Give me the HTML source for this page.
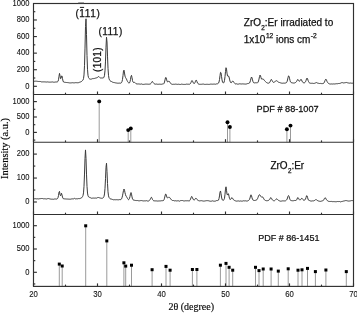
<!DOCTYPE html><html><head><meta charset="utf-8"><style>html,body{margin:0;padding:0;background:#fff;width:357px;height:313px;overflow:hidden}svg{display:block;will-change:transform}text{font-family:"Liberation Sans",sans-serif;fill:#111;stroke:#111;stroke-width:0.25px}.tk{stroke-width:0.1px}.sr{font-family:"Liberation Serif",serif;stroke:#111;stroke-width:0.15px;fill:#000}</style></head><body>
<svg width="357" height="313" viewBox="0 0 357 313">
<rect width="357" height="313" fill="#fff"/>
<line x1="99.2" y1="101.4" x2="99.2" y2="142.2" stroke="#9a9a9a" stroke-width="1"/>
<line x1="128.2" y1="130.1" x2="128.2" y2="142.2" stroke="#9a9a9a" stroke-width="1"/>
<line x1="130.8" y1="128.4" x2="130.8" y2="142.2" stroke="#9a9a9a" stroke-width="1"/>
<line x1="227.5" y1="122.2" x2="227.5" y2="142.2" stroke="#9a9a9a" stroke-width="1"/>
<line x1="229.9" y1="127.0" x2="229.9" y2="142.2" stroke="#9a9a9a" stroke-width="1"/>
<line x1="286.9" y1="129.2" x2="286.9" y2="142.2" stroke="#9a9a9a" stroke-width="1"/>
<line x1="290.5" y1="125.6" x2="290.5" y2="142.2" stroke="#9a9a9a" stroke-width="1"/>
<circle cx="99.2" cy="101.4" r="1.95" fill="#000"/>
<circle cx="128.2" cy="130.1" r="1.95" fill="#000"/>
<circle cx="130.8" cy="128.4" r="1.95" fill="#000"/>
<circle cx="227.5" cy="122.2" r="1.95" fill="#000"/>
<circle cx="229.9" cy="127.0" r="1.95" fill="#000"/>
<circle cx="286.9" cy="129.2" r="1.95" fill="#000"/>
<circle cx="290.5" cy="125.6" r="1.95" fill="#000"/>
<line x1="59.3" y1="264.1" x2="59.3" y2="286.4" stroke="#9a9a9a" stroke-width="1"/>
<line x1="62.2" y1="266.0" x2="62.2" y2="286.4" stroke="#9a9a9a" stroke-width="1"/>
<line x1="85.7" y1="225.8" x2="85.7" y2="286.4" stroke="#9a9a9a" stroke-width="1"/>
<line x1="106.8" y1="240.9" x2="106.8" y2="286.4" stroke="#9a9a9a" stroke-width="1"/>
<line x1="123.9" y1="262.8" x2="123.9" y2="286.4" stroke="#9a9a9a" stroke-width="1"/>
<line x1="125.7" y1="266.1" x2="125.7" y2="286.4" stroke="#9a9a9a" stroke-width="1"/>
<line x1="131.5" y1="265.2" x2="131.5" y2="286.4" stroke="#9a9a9a" stroke-width="1"/>
<line x1="152.1" y1="269.7" x2="152.1" y2="286.4" stroke="#9a9a9a" stroke-width="1"/>
<line x1="166.0" y1="266.4" x2="166.0" y2="286.4" stroke="#9a9a9a" stroke-width="1"/>
<line x1="170.1" y1="270.2" x2="170.1" y2="286.4" stroke="#9a9a9a" stroke-width="1"/>
<line x1="192.4" y1="269.5" x2="192.4" y2="286.4" stroke="#9a9a9a" stroke-width="1"/>
<line x1="196.9" y1="269.5" x2="196.9" y2="286.4" stroke="#9a9a9a" stroke-width="1"/>
<line x1="220.4" y1="265.2" x2="220.4" y2="286.4" stroke="#9a9a9a" stroke-width="1"/>
<line x1="226.0" y1="263.4" x2="226.0" y2="286.4" stroke="#9a9a9a" stroke-width="1"/>
<line x1="229.1" y1="267.3" x2="229.1" y2="286.4" stroke="#9a9a9a" stroke-width="1"/>
<line x1="232.7" y1="270.2" x2="232.7" y2="286.4" stroke="#9a9a9a" stroke-width="1"/>
<line x1="255.5" y1="267.3" x2="255.5" y2="286.4" stroke="#9a9a9a" stroke-width="1"/>
<line x1="259.0" y1="270.6" x2="259.0" y2="286.4" stroke="#9a9a9a" stroke-width="1"/>
<line x1="263.2" y1="269.0" x2="263.2" y2="286.4" stroke="#9a9a9a" stroke-width="1"/>
<line x1="271.1" y1="269.0" x2="271.1" y2="286.4" stroke="#9a9a9a" stroke-width="1"/>
<line x1="278.3" y1="271.1" x2="278.3" y2="286.4" stroke="#9a9a9a" stroke-width="1"/>
<line x1="288.2" y1="268.8" x2="288.2" y2="286.4" stroke="#9a9a9a" stroke-width="1"/>
<line x1="298.0" y1="270.2" x2="298.0" y2="286.4" stroke="#9a9a9a" stroke-width="1"/>
<line x1="302.0" y1="269.8" x2="302.0" y2="286.4" stroke="#9a9a9a" stroke-width="1"/>
<line x1="307.5" y1="268.4" x2="307.5" y2="286.4" stroke="#9a9a9a" stroke-width="1"/>
<line x1="315.4" y1="271.6" x2="315.4" y2="286.4" stroke="#9a9a9a" stroke-width="1"/>
<line x1="325.9" y1="270.0" x2="325.9" y2="286.4" stroke="#9a9a9a" stroke-width="1"/>
<line x1="346.3" y1="271.6" x2="346.3" y2="286.4" stroke="#9a9a9a" stroke-width="1"/>
<rect x="57.80" y="262.60" width="3" height="3" fill="#000"/>
<rect x="60.70" y="264.50" width="3" height="3" fill="#000"/>
<rect x="84.20" y="224.30" width="3" height="3" fill="#000"/>
<rect x="105.30" y="239.40" width="3" height="3" fill="#000"/>
<rect x="122.40" y="261.30" width="3" height="3" fill="#000"/>
<rect x="124.20" y="264.60" width="3" height="3" fill="#000"/>
<rect x="130.00" y="263.70" width="3" height="3" fill="#000"/>
<rect x="150.60" y="268.20" width="3" height="3" fill="#000"/>
<rect x="164.50" y="264.90" width="3" height="3" fill="#000"/>
<rect x="168.60" y="268.70" width="3" height="3" fill="#000"/>
<rect x="190.90" y="268.00" width="3" height="3" fill="#000"/>
<rect x="195.40" y="268.00" width="3" height="3" fill="#000"/>
<rect x="218.90" y="263.70" width="3" height="3" fill="#000"/>
<rect x="224.50" y="261.90" width="3" height="3" fill="#000"/>
<rect x="227.60" y="265.80" width="3" height="3" fill="#000"/>
<rect x="231.20" y="268.70" width="3" height="3" fill="#000"/>
<rect x="254.00" y="265.80" width="3" height="3" fill="#000"/>
<rect x="257.50" y="269.10" width="3" height="3" fill="#000"/>
<rect x="261.70" y="267.50" width="3" height="3" fill="#000"/>
<rect x="269.60" y="267.50" width="3" height="3" fill="#000"/>
<rect x="276.80" y="269.60" width="3" height="3" fill="#000"/>
<rect x="286.70" y="267.30" width="3" height="3" fill="#000"/>
<rect x="296.50" y="268.70" width="3" height="3" fill="#000"/>
<rect x="300.50" y="268.30" width="3" height="3" fill="#000"/>
<rect x="306.00" y="266.90" width="3" height="3" fill="#000"/>
<rect x="313.90" y="270.10" width="3" height="3" fill="#000"/>
<rect x="324.40" y="268.50" width="3" height="3" fill="#000"/>
<rect x="344.80" y="270.10" width="3" height="3" fill="#000"/>
<path d="M33.50 81.46 L34.00 81.40 L34.50 81.29 L35.00 81.15 L35.50 81.18 L36.00 81.19 L36.50 81.20 L37.00 81.24 L37.50 81.35 L38.00 81.51 L38.50 81.47 L39.00 81.49 L39.50 81.48 L40.00 81.47 L40.50 81.53 L41.00 81.59 L41.50 81.88 L42.00 81.88 L42.50 81.88 L43.00 81.84 L43.50 81.86 L44.00 81.96 L44.50 81.89 L45.00 81.92 L45.50 81.94 L46.00 82.03 L46.50 82.04 L47.00 81.91 L47.50 81.91 L48.00 81.92 L48.50 82.05 L49.00 82.05 L49.50 82.14 L50.00 82.10 L50.50 82.11 L51.00 82.09 L51.50 82.04 L52.00 82.01 L52.50 81.94 L53.00 82.16 L53.50 82.18 L54.00 82.27 L54.50 82.18 L55.00 82.16 L55.50 82.01 L56.00 82.01 L56.50 81.97 L57.00 82.07 L57.50 81.78 L58.00 81.35 L58.50 79.76 L59.00 76.26 L59.50 73.40 L60.00 75.78 L60.50 78.65 L61.00 78.45 L61.50 76.12 L62.00 75.88 L62.50 78.60 L63.00 80.96 L63.50 81.97 L64.00 82.30 L64.50 82.29 L65.00 82.25 L65.50 82.39 L66.00 82.42 L66.50 82.51 L67.00 82.43 L67.50 82.57 L68.00 82.59 L68.50 82.69 L69.00 82.82 L69.50 82.89 L70.00 83.00 L70.50 82.91 L71.00 82.88 L71.50 82.83 L72.00 82.67 L72.50 82.71 L73.00 82.71 L73.50 82.83 L74.00 82.87 L74.50 82.83 L75.00 82.75 L75.50 82.67 L76.00 82.61 L76.50 82.70 L77.00 82.66 L77.50 82.76 L78.00 82.73 L78.50 82.66 L79.00 82.51 L79.50 82.27 L80.00 82.22 L80.50 81.95 L81.00 81.89 L81.50 81.46 L82.00 81.10 L82.50 80.55 L83.00 79.99 L83.50 78.63 L84.00 74.95 L84.50 65.70 L85.00 48.10 L85.50 26.61 L86.00 18.80 L86.50 34.62 L87.00 55.49 L87.50 69.26 L88.00 75.31 L88.50 77.57 L89.00 78.44 L89.50 78.86 L90.00 79.11 L90.50 79.20 L91.00 79.25 L91.50 79.06 L92.00 78.93 L92.50 78.63 L93.00 78.60 L93.50 78.58 L94.00 78.56 L94.50 78.43 L95.00 78.20 L95.50 78.11 L96.00 78.03 L96.50 77.84 L97.00 77.70 L97.50 77.40 L98.00 76.97 L98.50 76.59 L99.00 76.74 L99.50 77.29 L100.00 77.72 L100.50 77.97 L101.00 78.02 L101.50 77.98 L102.00 77.92 L102.50 77.99 L103.00 78.03 L103.50 77.84 L104.00 77.11 L104.50 75.29 L105.00 70.69 L105.50 61.11 L106.00 47.18 L106.50 37.18 L107.00 42.01 L107.50 56.13 L108.00 68.33 L108.50 75.33 L109.00 78.52 L109.50 79.90 L110.00 80.65 L110.50 81.14 L111.00 81.38 L111.50 81.53 L112.00 81.71 L112.50 82.14 L113.00 82.42 L113.50 82.46 L114.00 82.43 L114.50 82.62 L115.00 82.73 L115.50 82.86 L116.00 82.80 L116.50 83.02 L117.00 83.07 L117.50 83.18 L118.00 83.26 L118.50 83.20 L119.00 83.14 L119.50 83.12 L120.00 83.06 L120.50 83.19 L121.00 82.95 L121.50 82.63 L122.00 81.59 L122.50 79.39 L123.00 75.46 L123.50 71.06 L124.00 70.17 L124.50 73.04 L125.00 76.12 L125.50 77.45 L126.00 78.29 L126.50 79.11 L127.00 80.40 L127.50 81.39 L128.00 82.30 L128.50 82.79 L129.00 83.01 L129.50 82.89 L130.00 81.77 L130.50 79.44 L131.00 76.37 L131.50 75.35 L132.00 77.60 L132.50 80.49 L133.00 81.98 L133.50 82.53 L134.00 82.37 L134.50 82.38 L135.00 82.54 L135.50 83.03 L136.00 83.57 L136.50 83.85 L137.00 83.95 L137.50 83.98 L138.00 83.99 L138.50 83.94 L139.00 84.00 L139.50 84.06 L140.00 84.28 L140.50 84.16 L141.00 84.00 L141.50 83.95 L142.00 84.04 L142.50 84.34 L143.00 84.36 L143.50 84.38 L144.00 84.31 L144.50 84.25 L145.00 84.24 L145.50 84.11 L146.00 84.17 L146.50 84.11 L147.00 84.16 L147.50 84.17 L148.00 84.28 L148.50 84.23 L149.00 84.29 L149.50 84.16 L150.00 84.19 L150.50 83.88 L151.00 83.40 L151.50 82.46 L152.00 81.61 L152.50 81.55 L153.00 82.38 L153.50 83.08 L154.00 83.59 L154.50 83.92 L155.00 84.16 L155.50 84.19 L156.00 84.09 L156.50 84.07 L157.00 84.19 L157.50 84.26 L158.00 84.35 L158.50 84.25 L159.00 84.29 L159.50 84.18 L160.00 84.20 L160.50 84.24 L161.00 84.26 L161.50 84.25 L162.00 84.08 L162.50 84.00 L163.00 84.02 L163.50 83.91 L164.00 83.42 L164.50 82.06 L165.00 79.92 L165.50 77.73 L166.00 77.42 L166.50 79.12 L167.00 81.00 L167.50 81.92 L168.00 81.84 L168.50 81.37 L169.00 80.99 L169.50 81.58 L170.00 82.45 L170.50 83.34 L171.00 83.72 L171.50 84.01 L172.00 84.24 L172.50 84.36 L173.00 84.33 L173.50 84.28 L174.00 84.29 L174.50 84.29 L175.00 84.24 L175.50 84.15 L176.00 84.16 L176.50 84.24 L177.00 84.44 L177.50 84.36 L178.00 84.38 L178.50 84.22 L179.00 84.34 L179.50 84.40 L180.00 84.49 L180.50 84.46 L181.00 84.33 L181.50 84.16 L182.00 84.17 L182.50 84.29 L183.00 84.36 L183.50 84.41 L184.00 84.37 L184.50 84.42 L185.00 84.44 L185.50 84.38 L186.00 84.29 L186.50 84.14 L187.00 84.20 L187.50 84.21 L188.00 84.26 L188.50 84.23 L189.00 84.16 L189.50 84.22 L190.00 84.00 L190.50 83.52 L191.00 82.41 L191.50 81.21 L192.00 80.51 L192.50 81.13 L193.00 82.24 L193.50 83.21 L194.00 83.60 L194.50 83.41 L195.00 82.57 L195.50 81.24 L196.00 80.16 L196.50 80.40 L197.00 81.68 L197.50 83.01 L198.00 83.61 L198.50 83.99 L199.00 84.06 L199.50 84.31 L200.00 84.35 L200.50 84.30 L201.00 84.29 L201.50 84.28 L202.00 84.35 L202.50 84.13 L203.00 84.17 L203.50 84.09 L204.00 84.35 L204.50 84.37 L205.00 84.48 L205.50 84.39 L206.00 84.37 L206.50 84.30 L207.00 84.34 L207.50 84.30 L208.00 84.26 L208.50 84.38 L209.00 84.43 L209.50 84.35 L210.00 84.28 L210.50 84.13 L211.00 84.24 L211.50 84.13 L212.00 84.17 L212.50 84.19 L213.00 84.19 L213.50 84.12 L214.00 84.08 L214.50 84.10 L215.00 84.29 L215.50 84.23 L216.00 84.08 L216.50 83.88 L217.00 83.88 L217.50 83.79 L218.00 83.58 L218.50 83.12 L219.00 82.01 L219.50 79.59 L220.00 75.70 L220.50 72.36 L221.00 72.72 L221.50 76.31 L222.00 79.86 L222.50 81.96 L223.00 82.80 L223.50 82.92 L224.00 82.34 L224.50 80.48 L225.00 76.67 L225.50 71.46 L226.00 67.71 L226.50 69.12 L227.00 73.17 L227.50 75.95 L228.00 76.31 L228.50 76.00 L229.00 77.00 L229.50 79.08 L230.00 81.12 L230.50 82.42 L231.00 82.87 L231.50 82.63 L232.00 81.79 L232.50 81.11 L233.00 81.01 L233.50 81.62 L234.00 82.49 L234.50 83.19 L235.00 83.72 L235.50 83.94 L236.00 83.79 L236.50 83.80 L237.00 83.88 L237.50 84.13 L238.00 84.19 L238.50 84.10 L239.00 83.97 L239.50 83.81 L240.00 83.78 L240.50 83.90 L241.00 84.01 L241.50 83.99 L242.00 84.00 L242.50 83.89 L243.00 84.06 L243.50 83.94 L244.00 84.07 L244.50 84.02 L245.00 84.05 L245.50 84.09 L246.00 84.03 L246.50 83.94 L247.00 83.75 L247.50 83.59 L248.00 83.48 L248.50 83.46 L249.00 83.38 L249.50 83.01 L250.00 82.06 L250.50 80.32 L251.00 78.28 L251.50 77.00 L252.00 77.86 L252.50 79.88 L253.00 81.65 L253.50 82.62 L254.00 82.92 L254.50 82.90 L255.00 82.88 L255.50 82.75 L256.00 82.69 L256.50 82.77 L257.00 82.85 L257.50 82.79 L258.00 82.27 L258.50 81.02 L259.00 79.08 L259.50 76.59 L260.00 75.06 L260.50 75.69 L261.00 77.62 L261.50 79.06 L262.00 79.37 L262.50 79.00 L263.00 78.79 L263.50 79.22 L264.00 79.95 L264.50 80.64 L265.00 81.11 L265.50 81.60 L266.00 82.04 L266.50 82.53 L267.00 82.85 L267.50 83.04 L268.00 83.17 L268.50 83.18 L269.00 83.07 L269.50 82.71 L270.00 81.91 L270.50 80.81 L271.00 79.59 L271.50 79.54 L272.00 80.40 L272.50 81.43 L273.00 82.17 L273.50 82.39 L274.00 82.29 L274.50 81.93 L275.00 81.56 L275.50 81.21 L276.00 80.83 L276.50 80.69 L277.00 80.95 L277.50 81.34 L278.00 81.78 L278.50 82.18 L279.00 82.33 L279.50 82.51 L280.00 82.69 L280.50 82.83 L281.00 83.03 L281.50 83.14 L282.00 83.29 L282.50 83.23 L283.00 83.10 L283.50 83.14 L284.00 83.14 L284.50 83.17 L285.00 83.06 L285.50 83.01 L286.00 82.83 L286.50 82.58 L287.00 81.71 L287.50 80.02 L288.00 77.67 L288.50 75.91 L289.00 76.20 L289.50 78.27 L290.00 80.43 L290.50 81.90 L291.00 82.49 L291.50 82.66 L292.00 82.81 L292.50 82.90 L293.00 83.08 L293.50 83.04 L294.00 83.13 L294.50 82.97 L295.00 82.91 L295.50 82.53 L296.00 82.22 L296.50 81.56 L297.00 80.66 L297.50 79.66 L298.00 79.46 L298.50 80.27 L299.00 81.07 L299.50 81.32 L300.00 80.66 L300.50 79.85 L301.00 79.23 L301.50 79.88 L302.00 81.04 L302.50 82.05 L303.00 82.57 L303.50 82.75 L304.00 82.82 L304.50 82.79 L305.00 82.45 L305.50 81.76 L306.00 80.51 L306.50 78.90 L307.00 78.03 L307.50 78.55 L308.00 80.24 L308.50 81.52 L309.00 82.56 L309.50 82.89 L310.00 83.15 L310.50 83.25 L311.00 83.35 L311.50 83.29 L312.00 83.24 L312.50 83.28 L313.00 83.46 L313.50 83.44 L314.00 83.42 L314.50 83.33 L315.00 83.14 L315.50 82.91 L316.00 82.57 L316.50 82.57 L317.00 82.72 L317.50 83.07 L318.00 83.14 L318.50 83.31 L319.00 83.37 L319.50 83.50 L320.00 83.49 L320.50 83.43 L321.00 83.51 L321.50 83.58 L322.00 83.69 L322.50 83.60 L323.00 83.58 L323.50 83.39 L324.00 82.90 L324.50 81.92 L325.00 80.56 L325.50 79.46 L326.00 79.17 L326.50 80.15 L327.00 81.39 L327.50 82.33 L328.00 82.94 L328.50 83.42 L329.00 83.72 L329.50 83.90 L330.00 83.91 L330.50 84.04 L331.00 84.02 L331.50 83.94 L332.00 83.89 L332.50 84.04 L333.00 84.06 L333.50 83.92 L334.00 83.91 L334.50 83.98 L335.00 84.07 L335.50 83.85 L336.00 83.67 L336.50 83.71 L337.00 83.72 L337.50 83.73 L338.00 83.60 L338.50 83.51 L339.00 83.55 L339.50 83.47 L340.00 83.47 L340.50 83.19 L341.00 82.98 L341.50 82.69 L342.00 82.61 L342.50 82.63 L343.00 82.78 L343.50 82.94 L344.00 82.86 L344.50 82.80 L345.00 82.60 L345.50 82.64 L346.00 82.46 L346.50 82.48 L347.00 82.58 L347.50 82.79 L348.00 82.96 L348.50 83.01 L349.00 83.05 L349.50 83.16 L350.00 83.08 L350.50 83.03 L351.00 83.04 L351.50 83.20 L352.00 83.28 L352.50 83.19 L353.00 83.29 L353.50 83.34" fill="none" stroke="#3a3a3a" stroke-width="1.0" stroke-linejoin="round"/>
<path d="M33.50 198.79 L34.00 198.64 L34.50 198.75 L35.00 198.61 L35.50 198.69 L36.00 198.80 L36.50 198.86 L37.00 198.89 L37.50 198.79 L38.00 198.90 L38.50 198.92 L39.00 198.92 L39.50 198.72 L40.00 198.71 L40.50 198.62 L41.00 198.60 L41.50 198.50 L42.00 198.39 L42.50 198.52 L43.00 198.67 L43.50 198.81 L44.00 198.86 L44.50 198.76 L45.00 198.79 L45.50 198.83 L46.00 199.05 L46.50 198.99 L47.00 198.94 L47.50 198.67 L48.00 198.72 L48.50 198.56 L49.00 198.63 L49.50 198.80 L50.00 198.81 L50.50 199.05 L51.00 198.98 L51.50 199.18 L52.00 199.16 L52.50 199.19 L53.00 199.33 L53.50 199.27 L54.00 199.17 L54.50 199.00 L55.00 198.92 L55.50 198.97 L56.00 198.93 L56.50 199.08 L57.00 198.81 L57.50 198.58 L58.00 197.69 L58.50 195.47 L59.00 192.18 L59.50 191.38 L60.00 194.62 L60.50 195.77 L61.00 194.78 L61.50 193.26 L62.00 195.06 L62.50 197.13 L63.00 198.48 L63.50 198.67 L64.00 198.92 L64.50 198.87 L65.00 198.96 L65.50 198.95 L66.00 199.26 L66.50 199.03 L67.00 199.15 L67.50 199.06 L68.00 199.25 L68.50 199.12 L69.00 198.98 L69.50 199.18 L70.00 199.17 L70.50 199.18 L71.00 198.99 L71.50 198.94 L72.00 198.93 L72.50 198.85 L73.00 199.06 L73.50 198.87 L74.00 198.58 L74.50 198.35 L75.00 198.50 L75.50 198.87 L76.00 198.82 L76.50 198.78 L77.00 198.73 L77.50 198.80 L78.00 198.71 L78.50 198.57 L79.00 198.59 L79.50 198.60 L80.00 198.42 L80.50 198.32 L81.00 198.16 L81.50 197.95 L82.00 197.25 L82.50 196.65 L83.00 195.54 L83.50 192.88 L84.00 186.28 L84.50 174.05 L85.00 158.41 L85.50 149.92 L86.00 158.37 L86.50 174.14 L87.00 186.41 L87.50 193.05 L88.00 195.74 L88.50 196.77 L89.00 197.18 L89.50 197.36 L90.00 197.48 L90.50 197.73 L91.00 198.00 L91.50 198.24 L92.00 198.23 L92.50 198.13 L93.00 198.08 L93.50 198.07 L94.00 198.09 L94.50 198.11 L95.00 198.16 L95.50 198.05 L96.00 198.15 L96.50 198.14 L97.00 198.07 L97.50 197.62 L98.00 197.40 L98.50 197.49 L99.00 197.69 L99.50 197.81 L100.00 197.82 L100.50 198.10 L101.00 198.13 L101.50 198.28 L102.00 198.12 L102.50 198.18 L103.00 197.87 L103.50 197.48 L104.00 196.35 L104.50 193.94 L105.00 188.40 L105.50 178.69 L106.00 167.24 L106.50 163.23 L107.00 171.64 L107.50 183.45 L108.00 191.79 L108.50 195.83 L109.00 197.38 L109.50 198.20 L110.00 198.69 L110.50 198.91 L111.00 199.07 L111.50 199.13 L112.00 199.28 L112.50 199.48 L113.00 199.71 L113.50 199.77 L114.00 199.69 L114.50 199.70 L115.00 199.74 L115.50 199.75 L116.00 199.78 L116.50 199.69 L117.00 199.74 L117.50 199.76 L118.00 199.99 L118.50 199.81 L119.00 199.75 L119.50 199.58 L120.00 199.72 L120.50 199.64 L121.00 199.53 L121.50 198.89 L122.00 197.70 L122.50 195.85 L123.00 193.11 L123.50 190.42 L124.00 189.04 L124.50 190.20 L125.00 192.73 L125.50 194.66 L126.00 196.07 L126.50 196.61 L127.00 197.56 L127.50 198.44 L128.00 199.29 L128.50 199.68 L129.00 199.39 L129.50 198.31 L130.00 196.43 L130.50 193.77 L131.00 192.54 L131.50 194.17 L132.00 196.92 L132.50 198.92 L133.00 199.71 L133.50 200.03 L134.00 200.16 L134.50 200.29 L135.00 200.52 L135.50 200.47 L136.00 200.73 L136.50 200.54 L137.00 200.76 L137.50 200.52 L138.00 200.81 L138.50 200.74 L139.00 200.88 L139.50 200.81 L140.00 200.75 L140.50 200.62 L141.00 200.36 L141.50 200.56 L142.00 200.60 L142.50 200.76 L143.00 200.64 L143.50 200.92 L144.00 200.82 L144.50 200.85 L145.00 200.62 L145.50 200.86 L146.00 200.66 L146.50 200.66 L147.00 200.69 L147.50 201.02 L148.00 201.20 L148.50 201.01 L149.00 200.78 L149.50 200.38 L150.00 199.78 L150.50 198.62 L151.00 197.56 L151.50 197.32 L152.00 198.27 L152.50 199.48 L153.00 200.19 L153.50 200.66 L154.00 200.69 L154.50 200.85 L155.00 200.87 L155.50 200.90 L156.00 200.94 L156.50 200.92 L157.00 201.10 L157.50 201.04 L158.00 201.11 L158.50 200.97 L159.00 200.96 L159.50 200.93 L160.00 200.77 L160.50 200.90 L161.00 200.72 L161.50 200.72 L162.00 200.60 L162.50 200.70 L163.00 200.73 L163.50 200.53 L164.00 199.77 L164.50 198.19 L165.00 196.02 L165.50 194.16 L166.00 194.20 L166.50 195.91 L167.00 197.39 L167.50 197.97 L168.00 197.77 L168.50 197.26 L169.00 197.13 L169.50 197.39 L170.00 197.95 L170.50 198.73 L171.00 199.18 L171.50 199.90 L172.00 200.15 L172.50 200.51 L173.00 200.41 L173.50 200.51 L174.00 200.63 L174.50 200.85 L175.00 200.72 L175.50 200.73 L176.00 200.78 L176.50 200.93 L177.00 200.99 L177.50 200.80 L178.00 200.83 L178.50 200.80 L179.00 201.04 L179.50 201.18 L180.00 200.96 L180.50 200.65 L181.00 200.56 L181.50 200.53 L182.00 200.69 L182.50 200.52 L183.00 200.77 L183.50 200.86 L184.00 201.04 L184.50 200.93 L185.00 200.85 L185.50 200.75 L186.00 200.78 L186.50 200.79 L187.00 200.85 L187.50 200.76 L188.00 200.90 L188.50 200.84 L189.00 200.97 L189.50 200.77 L190.00 200.31 L190.50 199.20 L191.00 197.87 L191.50 196.58 L192.00 196.59 L192.50 197.61 L193.00 199.02 L193.50 199.75 L194.00 200.05 L194.50 199.83 L195.00 199.39 L195.50 198.42 L196.00 198.15 L196.50 198.62 L197.00 199.47 L197.50 199.94 L198.00 200.23 L198.50 200.60 L199.00 200.72 L199.50 200.88 L200.00 200.84 L200.50 200.76 L201.00 200.58 L201.50 200.68 L202.00 200.73 L202.50 200.90 L203.00 200.95 L203.50 201.09 L204.00 201.12 L204.50 201.02 L205.00 200.97 L205.50 200.83 L206.00 200.80 L206.50 200.66 L207.00 200.68 L207.50 200.65 L208.00 200.67 L208.50 200.76 L209.00 200.92 L209.50 201.04 L210.00 201.18 L210.50 201.22 L211.00 201.35 L211.50 201.15 L212.00 200.90 L212.50 200.84 L213.00 200.92 L213.50 201.13 L214.00 201.11 L214.50 201.19 L215.00 201.06 L215.50 201.06 L216.00 200.82 L216.50 200.57 L217.00 200.40 L217.50 200.55 L218.00 200.43 L218.50 200.11 L219.00 198.58 L219.50 195.93 L220.00 192.22 L220.50 190.97 L221.00 193.58 L221.50 197.03 L222.00 199.14 L222.50 200.12 L223.00 200.20 L223.50 200.19 L224.00 199.72 L224.50 198.28 L225.00 194.23 L225.50 189.13 L226.00 186.80 L226.50 190.28 L227.00 194.05 L227.50 195.06 L228.00 193.80 L228.50 193.86 L229.00 196.23 L229.50 198.50 L230.00 199.57 L230.50 199.40 L231.00 198.86 L231.50 197.95 L232.00 197.55 L232.50 198.17 L233.00 199.09 L233.50 199.77 L234.00 200.17 L234.50 200.45 L235.00 200.79 L235.50 200.86 L236.00 201.01 L236.50 201.14 L237.00 201.22 L237.50 201.00 L238.00 200.86 L238.50 200.93 L239.00 201.06 L239.50 201.17 L240.00 200.96 L240.50 200.96 L241.00 201.02 L241.50 201.13 L242.00 201.15 L242.50 201.08 L243.00 200.84 L243.50 200.78 L244.00 200.78 L244.50 200.90 L245.00 200.86 L245.50 200.80 L246.00 200.81 L246.50 201.03 L247.00 201.05 L247.50 200.95 L248.00 200.70 L248.50 200.46 L249.00 200.12 L249.50 199.45 L250.00 197.98 L250.50 196.04 L251.00 194.81 L251.50 195.73 L252.00 197.76 L252.50 199.31 L253.00 200.19 L253.50 200.26 L254.00 200.35 L254.50 200.49 L255.00 200.52 L255.50 200.33 L256.00 199.98 L256.50 199.91 L257.00 199.63 L257.50 198.77 L258.00 197.47 L258.50 196.14 L259.00 195.09 L259.50 194.71 L260.00 195.03 L260.50 195.81 L261.00 196.61 L261.50 197.13 L262.00 197.25 L262.50 197.01 L263.00 197.24 L263.50 198.22 L264.00 199.24 L264.50 199.88 L265.00 200.23 L265.50 200.49 L266.00 200.57 L266.50 200.71 L267.00 200.66 L267.50 200.67 L268.00 200.44 L268.50 200.37 L269.00 200.15 L269.50 199.64 L270.00 198.80 L270.50 197.81 L271.00 197.63 L271.50 198.34 L272.00 199.40 L272.50 200.04 L273.00 200.49 L273.50 200.70 L274.00 200.82 L274.50 200.71 L275.00 200.29 L275.50 199.84 L276.00 199.34 L276.50 198.92 L277.00 198.94 L277.50 199.48 L278.00 199.96 L278.50 200.38 L279.00 200.41 L279.50 200.85 L280.00 201.01 L280.50 201.20 L281.00 201.10 L281.50 201.08 L282.00 201.06 L282.50 200.86 L283.00 200.86 L283.50 200.88 L284.00 200.87 L284.50 200.91 L285.00 200.88 L285.50 200.80 L286.00 200.51 L286.50 200.02 L287.00 199.29 L287.50 197.99 L288.00 196.30 L288.50 195.54 L289.00 196.31 L289.50 198.10 L290.00 199.51 L290.50 200.30 L291.00 200.68 L291.50 200.63 L292.00 200.82 L292.50 200.75 L293.00 200.84 L293.50 200.71 L294.00 200.56 L294.50 200.47 L295.00 200.45 L295.50 200.49 L296.00 200.58 L296.50 200.07 L297.00 199.14 L297.50 197.86 L298.00 197.51 L298.50 198.22 L299.00 199.33 L299.50 199.85 L300.00 199.99 L300.50 199.74 L301.00 199.11 L301.50 198.40 L302.00 198.22 L302.50 198.88 L303.00 199.66 L303.50 200.12 L304.00 200.14 L304.50 200.08 L305.00 199.84 L305.50 199.09 L306.00 197.63 L306.50 195.84 L307.00 195.78 L307.50 197.24 L308.00 199.08 L308.50 200.15 L309.00 200.41 L309.50 200.55 L310.00 200.50 L310.50 200.94 L311.00 201.01 L311.50 201.06 L312.00 200.97 L312.50 200.89 L313.00 201.07 L313.50 200.89 L314.00 200.91 L314.50 200.48 L315.00 200.29 L315.50 199.68 L316.00 199.65 L316.50 199.71 L317.00 200.36 L317.50 200.55 L318.00 200.88 L318.50 201.01 L319.00 201.23 L319.50 201.26 L320.00 201.32 L320.50 201.37 L321.00 201.29 L321.50 201.10 L322.00 200.82 L322.50 200.79 L323.00 200.58 L323.50 200.27 L324.00 199.38 L324.50 198.37 L325.00 197.69 L325.50 197.98 L326.00 198.86 L326.50 199.66 L327.00 200.18 L327.50 200.81 L328.00 201.13 L328.50 201.32 L329.00 201.38 L329.50 201.48 L330.00 201.57 L330.50 201.47 L331.00 201.41 L331.50 201.43 L332.00 201.51 L332.50 201.63 L333.00 201.57 L333.50 201.60 L334.00 201.59 L334.50 201.65 L335.00 201.67 L335.50 201.73 L336.00 201.74 L336.50 201.70 L337.00 201.50 L337.50 201.51 L338.00 201.50 L338.50 201.56 L339.00 201.45 L339.50 201.51 L340.00 201.80 L340.50 201.89 L341.00 201.81 L341.50 201.56 L342.00 201.42 L342.50 201.36 L343.00 201.18 L343.50 201.07 L344.00 200.94 L344.50 200.87 L345.00 200.78 L345.50 200.59 L346.00 200.62 L346.50 200.61 L347.00 200.87 L347.50 200.89 L348.00 201.05 L348.50 201.06 L349.00 201.15 L349.50 201.00 L350.00 200.88 L350.50 200.83 L351.00 200.83 L351.50 200.58 L352.00 200.51 L352.50 200.59 L353.00 200.84 L353.50 200.84" fill="none" stroke="#3a3a3a" stroke-width="1.0" stroke-linejoin="round"/>
<g stroke="#303030" stroke-width="1.15" fill="none">
<rect x="33.50" y="3.50" width="320.00" height="282.90"/>
<line x1="33.50" y1="94.50" x2="353.50" y2="94.50"/>
<line x1="33.50" y1="142.20" x2="353.50" y2="142.20"/>
<line x1="33.50" y1="214.50" x2="353.50" y2="214.50"/>
<line x1="33.50" y1="94.50" x2="33.50" y2="91.50"/>
<line x1="65.50" y1="94.50" x2="65.50" y2="92.70"/>
<line x1="97.50" y1="94.50" x2="97.50" y2="91.50"/>
<line x1="129.50" y1="94.50" x2="129.50" y2="92.70"/>
<line x1="161.50" y1="94.50" x2="161.50" y2="91.50"/>
<line x1="193.50" y1="94.50" x2="193.50" y2="92.70"/>
<line x1="225.50" y1="94.50" x2="225.50" y2="91.50"/>
<line x1="257.50" y1="94.50" x2="257.50" y2="92.70"/>
<line x1="289.50" y1="94.50" x2="289.50" y2="91.50"/>
<line x1="321.50" y1="94.50" x2="321.50" y2="92.70"/>
<line x1="353.50" y1="94.50" x2="353.50" y2="91.50"/>
<line x1="33.50" y1="142.20" x2="33.50" y2="139.20"/>
<line x1="65.50" y1="142.20" x2="65.50" y2="140.40"/>
<line x1="97.50" y1="142.20" x2="97.50" y2="139.20"/>
<line x1="129.50" y1="142.20" x2="129.50" y2="140.40"/>
<line x1="161.50" y1="142.20" x2="161.50" y2="139.20"/>
<line x1="193.50" y1="142.20" x2="193.50" y2="140.40"/>
<line x1="225.50" y1="142.20" x2="225.50" y2="139.20"/>
<line x1="257.50" y1="142.20" x2="257.50" y2="140.40"/>
<line x1="289.50" y1="142.20" x2="289.50" y2="139.20"/>
<line x1="321.50" y1="142.20" x2="321.50" y2="140.40"/>
<line x1="353.50" y1="142.20" x2="353.50" y2="139.20"/>
<line x1="33.50" y1="214.50" x2="33.50" y2="211.50"/>
<line x1="65.50" y1="214.50" x2="65.50" y2="212.70"/>
<line x1="97.50" y1="214.50" x2="97.50" y2="211.50"/>
<line x1="129.50" y1="214.50" x2="129.50" y2="212.70"/>
<line x1="161.50" y1="214.50" x2="161.50" y2="211.50"/>
<line x1="193.50" y1="214.50" x2="193.50" y2="212.70"/>
<line x1="225.50" y1="214.50" x2="225.50" y2="211.50"/>
<line x1="257.50" y1="214.50" x2="257.50" y2="212.70"/>
<line x1="289.50" y1="214.50" x2="289.50" y2="211.50"/>
<line x1="321.50" y1="214.50" x2="321.50" y2="212.70"/>
<line x1="353.50" y1="214.50" x2="353.50" y2="211.50"/>
<line x1="33.50" y1="286.40" x2="33.50" y2="283.40"/>
<line x1="65.50" y1="286.40" x2="65.50" y2="284.60"/>
<line x1="97.50" y1="286.40" x2="97.50" y2="283.40"/>
<line x1="129.50" y1="286.40" x2="129.50" y2="284.60"/>
<line x1="161.50" y1="286.40" x2="161.50" y2="283.40"/>
<line x1="193.50" y1="286.40" x2="193.50" y2="284.60"/>
<line x1="225.50" y1="286.40" x2="225.50" y2="283.40"/>
<line x1="257.50" y1="286.40" x2="257.50" y2="284.60"/>
<line x1="289.50" y1="286.40" x2="289.50" y2="283.40"/>
<line x1="321.50" y1="286.40" x2="321.50" y2="284.60"/>
<line x1="353.50" y1="286.40" x2="353.50" y2="283.40"/>
<line x1="33.50" y1="11.69" x2="35.30" y2="11.69"/>
<line x1="33.50" y1="19.98" x2="36.90" y2="19.98"/>
<line x1="33.50" y1="28.27" x2="35.30" y2="28.27"/>
<line x1="33.50" y1="36.56" x2="36.90" y2="36.56"/>
<line x1="33.50" y1="44.85" x2="35.30" y2="44.85"/>
<line x1="33.50" y1="53.14" x2="36.90" y2="53.14"/>
<line x1="33.50" y1="61.43" x2="35.30" y2="61.43"/>
<line x1="33.50" y1="69.72" x2="36.90" y2="69.72"/>
<line x1="33.50" y1="78.01" x2="35.30" y2="78.01"/>
<line x1="33.50" y1="86.30" x2="36.90" y2="86.30"/>
<line x1="33.50" y1="101.60" x2="36.90" y2="101.60"/>
<line x1="33.50" y1="109.30" x2="35.30" y2="109.30"/>
<line x1="33.50" y1="117.00" x2="36.90" y2="117.00"/>
<line x1="33.50" y1="124.70" x2="35.30" y2="124.70"/>
<line x1="33.50" y1="132.40" x2="36.90" y2="132.40"/>
<line x1="33.50" y1="140.10" x2="35.30" y2="140.10"/>
<line x1="33.50" y1="154.10" x2="36.90" y2="154.10"/>
<line x1="33.50" y1="166.07" x2="35.30" y2="166.07"/>
<line x1="33.50" y1="178.05" x2="36.90" y2="178.05"/>
<line x1="33.50" y1="190.03" x2="35.30" y2="190.03"/>
<line x1="33.50" y1="202.00" x2="36.90" y2="202.00"/>
<line x1="33.50" y1="225.70" x2="36.90" y2="225.70"/>
<line x1="33.50" y1="237.35" x2="35.30" y2="237.35"/>
<line x1="33.50" y1="249.00" x2="36.90" y2="249.00"/>
<line x1="33.50" y1="260.65" x2="35.30" y2="260.65"/>
<line x1="33.50" y1="272.30" x2="36.90" y2="272.30"/>
<line x1="33.50" y1="283.95" x2="35.30" y2="283.95"/>
</g>
<text class="tk" x="29.4" y="5.80" font-size="8.4" text-anchor="end" transform="translate(29.4 0) scale(0.9 1) translate(-29.4 0)">1000</text>
<text class="tk" x="29.4" y="22.30" font-size="8.4" text-anchor="end" transform="translate(29.4 0) scale(0.9 1) translate(-29.4 0)">800</text>
<text class="tk" x="29.4" y="38.90" font-size="8.4" text-anchor="end" transform="translate(29.4 0) scale(0.9 1) translate(-29.4 0)">600</text>
<text class="tk" x="29.4" y="55.50" font-size="8.4" text-anchor="end" transform="translate(29.4 0) scale(0.9 1) translate(-29.4 0)">400</text>
<text class="tk" x="29.4" y="72.10" font-size="8.4" text-anchor="end" transform="translate(29.4 0) scale(0.9 1) translate(-29.4 0)">200</text>
<text class="tk" x="29.4" y="88.70" font-size="8.4" text-anchor="end" transform="translate(29.4 0) scale(0.9 1) translate(-29.4 0)">0</text>
<text class="tk" x="29.4" y="104.00" font-size="8.4" text-anchor="end" transform="translate(29.4 0) scale(0.9 1) translate(-29.4 0)">1000</text>
<text class="tk" x="29.4" y="119.40" font-size="8.4" text-anchor="end" transform="translate(29.4 0) scale(0.9 1) translate(-29.4 0)">500</text>
<text class="tk" x="29.4" y="134.80" font-size="8.4" text-anchor="end" transform="translate(29.4 0) scale(0.9 1) translate(-29.4 0)">0</text>
<text class="tk" x="29.4" y="156.50" font-size="8.4" text-anchor="end" transform="translate(29.4 0) scale(0.9 1) translate(-29.4 0)">200</text>
<text class="tk" x="29.4" y="180.50" font-size="8.4" text-anchor="end" transform="translate(29.4 0) scale(0.9 1) translate(-29.4 0)">100</text>
<text class="tk" x="29.4" y="204.40" font-size="8.4" text-anchor="end" transform="translate(29.4 0) scale(0.9 1) translate(-29.4 0)">0</text>
<text class="tk" x="29.4" y="228.10" font-size="8.4" text-anchor="end" transform="translate(29.4 0) scale(0.9 1) translate(-29.4 0)">1000</text>
<text class="tk" x="29.4" y="251.40" font-size="8.4" text-anchor="end" transform="translate(29.4 0) scale(0.9 1) translate(-29.4 0)">500</text>
<text class="tk" x="29.4" y="274.70" font-size="8.4" text-anchor="end" transform="translate(29.4 0) scale(0.9 1) translate(-29.4 0)">0</text>
<text class="tk" x="33.50" y="297.0" font-size="8.6" text-anchor="middle" transform="translate(33.50 0) scale(0.9 1) translate(-33.50 0)">20</text>
<text class="tk" x="97.50" y="297.0" font-size="8.6" text-anchor="middle" transform="translate(97.50 0) scale(0.9 1) translate(-97.50 0)">30</text>
<text class="tk" x="161.50" y="297.0" font-size="8.6" text-anchor="middle" transform="translate(161.50 0) scale(0.9 1) translate(-161.50 0)">40</text>
<text class="tk" x="225.50" y="297.0" font-size="8.6" text-anchor="middle" transform="translate(225.50 0) scale(0.9 1) translate(-225.50 0)">50</text>
<text class="tk" x="289.50" y="297.0" font-size="8.6" text-anchor="middle" transform="translate(289.50 0) scale(0.9 1) translate(-289.50 0)">60</text>
<text class="tk" x="353.50" y="297.0" font-size="8.6" text-anchor="middle" transform="translate(353.50 0) scale(0.9 1) translate(-353.50 0)">70</text>
<text class="sr" x="191.3" y="309.7" font-size="10" text-anchor="middle">2&#952; (degree)</text>
<text class="sr" x="0" y="0" font-size="10.4" text-anchor="middle" transform="translate(7.6 148.5) rotate(-90)">Intensity (a.u.)</text>
<text x="75.4" y="17.4" font-size="10" letter-spacing="0.65">(111)</text>
<line x1="79.9" y1="7.4" x2="84.1" y2="7.4" stroke="#1a1a1a" stroke-width="1"/>
<line x1="78.2" y1="2.7" x2="84.0" y2="2.7" stroke="#777" stroke-width="0.8"/>
<text x="98.4" y="34.6" font-size="10" letter-spacing="0.5">(111)</text>
<text x="0" y="0" font-size="10" letter-spacing="0.3" transform="translate(101.0 72.0) rotate(-90)">(101)</text>
<text x="243.8" y="25.7" font-size="10">ZrO<tspan font-size="6.3" dx="0.3" dy="4.3">2</tspan><tspan dy="-4.3">:Er irradiated to</tspan></text>
<text x="243.7" y="42.6" font-size="10">1x10<tspan font-size="6.6" dx="0.5" dy="-4.3">12</tspan><tspan dy="4.3"> ions cm</tspan><tspan font-size="6.6" dx="0.4" dy="-4.3">-2</tspan></text>
<text x="256.6" y="112.5" font-size="9.8" transform="translate(256.6 0) scale(0.935 1) translate(-256.6 0)">PDF # 88-1007</text>
<text x="270.4" y="168.6" font-size="10">ZrO<tspan font-size="6.3" dx="0.3" dy="4.0">2</tspan><tspan dy="-4.0">:Er</tspan></text>
<text x="258.3" y="240.9" font-size="9.8" transform="translate(258.3 0) scale(0.921 1) translate(-258.3 0)">PDF # 86-1451</text>
</svg></body></html>
